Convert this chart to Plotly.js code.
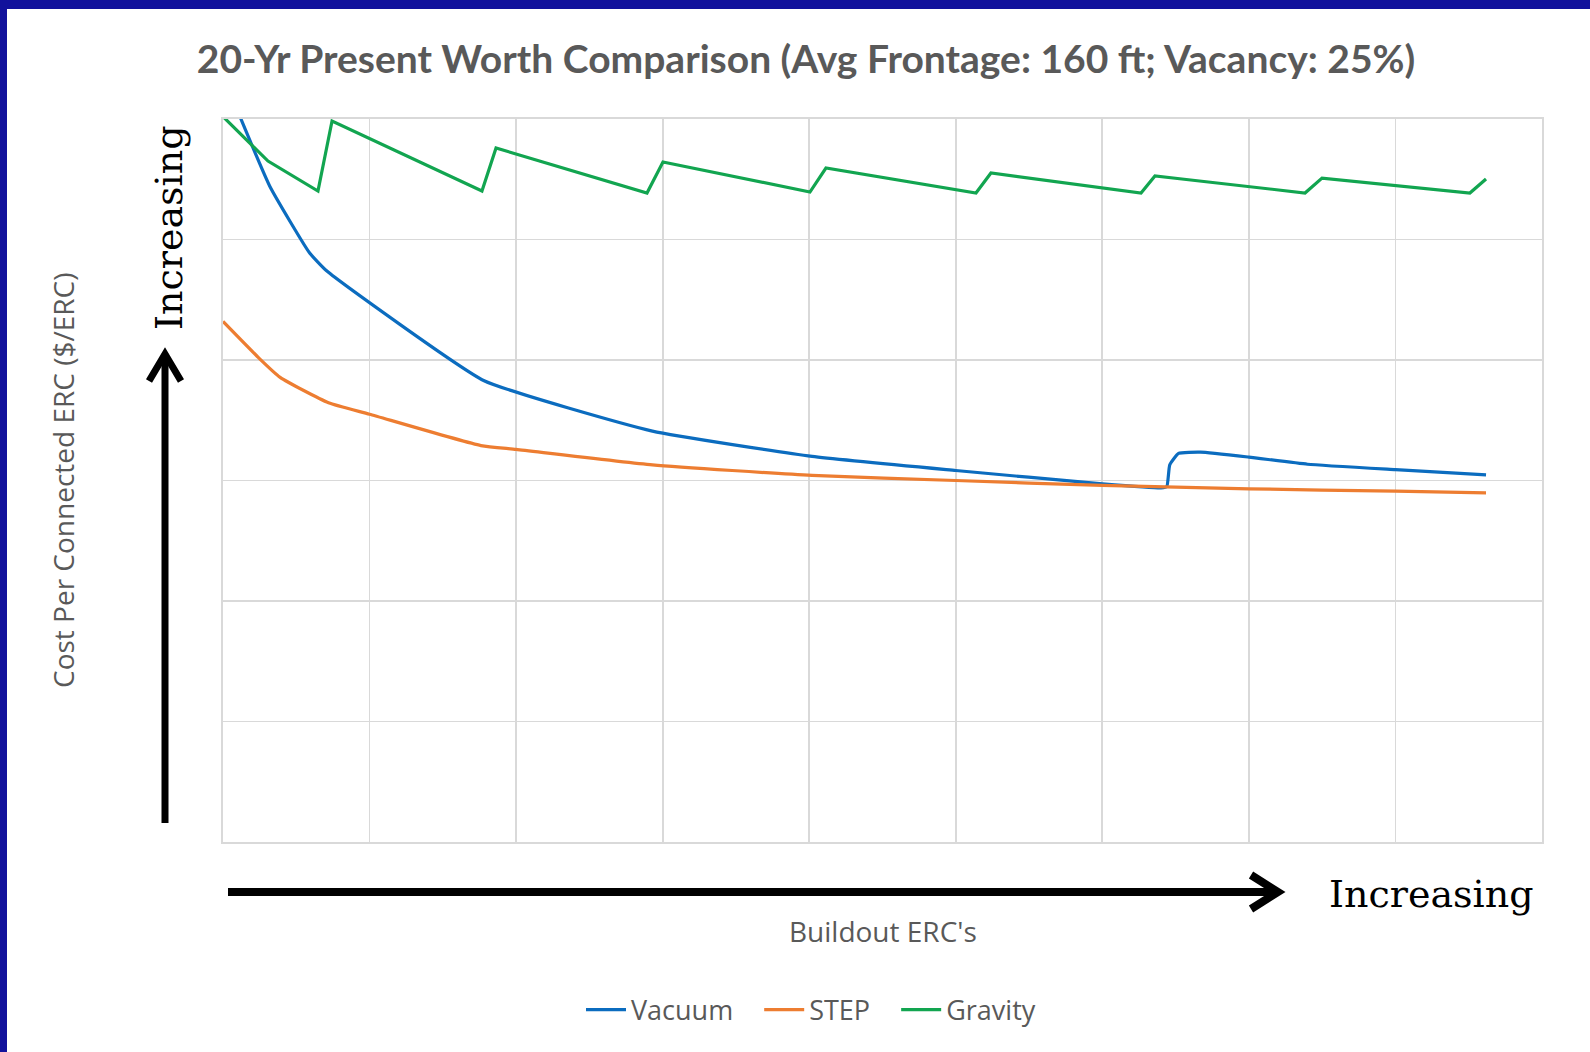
<!DOCTYPE html>
<html>
<head>
<meta charset="utf-8">
<script src="https://cdn.plot.ly/plotly-3.0.1.min.js"></script>
<style>
  html, body { margin: 0; padding: 0; background: #ffffff; }
  #chart { width: 1590px; height: 1052px; }
</style>
</head>
<body>
<div id="chart"></div>
<script>
// ---- Data (axis units are unlabeled grid units) ----
const seriesNames = ["Vacuum", "STEP", "Gravity"];

const vacuumX = [0, 0.32, 0.59, 0.707, 1.778, 2.93, 4.02, 5.0, 6.0, 6.40, 6.44, 6.46, 6.52, 6.67, 7.0, 7.4, 8.0, 8.618];
const vacuumY = [6.36, 5.44, 4.89, 4.74, 3.83, 3.41, 3.20, 3.083, 2.972, 2.938, 2.95, 3.13, 3.225, 3.235, 3.194, 3.135, 3.09, 3.047];

const stepX = [0, 0.242, 0.39, 0.72, 1.0, 1.76, 2.0, 2.93, 4.02, 5.0, 6.0, 7.0, 8.0, 8.618];
const stepY = [4.32, 4.02, 3.856, 3.645, 3.55, 3.29, 3.258, 3.13, 3.042, 3.0, 2.959, 2.931, 2.911, 2.898];

const gravityX = [0, 0.307, 0.648, 0.744, 1.767, 1.863, 2.893, 3.002, 4.005, 4.114, 5.138, 5.24, 6.264, 6.359, 6.543, 7.383, 7.499, 8.508, 8.618];
const gravityY = [6.02, 5.651, 5.402, 5.983, 5.402, 5.759, 5.386, 5.643, 5.394, 5.593, 5.386, 5.552, 5.386, 5.527, 5.502, 5.386, 5.510, 5.386, 5.502];

const titleText = "20-Yr Present Worth Comparison (Avg Frontage: 160 ft; Vacancy: 25%)";
const yTitleText = "Cost Per Connected ERC ($/ERC)";
const xTitleText = "Buildout ERC's";
const arrowLabel = "Increasing";

// ---- Layout helpers (page pixel -> paper coords) ----
const W = 1590, H = 1052;
const M = { l: 223, r: 48, t: 119, b: 210 };
const PW = W - M.l - M.r, PH = H - M.t - M.b;
const px = x => (x - M.l) / PW;
const py = y => (H - M.b - y) / PH;
const pt = (x, y) => px(x).toFixed(5) + "," + py(y).toFixed(5);

const gray = "#595959";
const grid = "#D9D9D9";
const pad = "\u00A0\u00A0\u00A0";

const traces = [
  { x: vacuumX, y: vacuumY, name: seriesNames[0] + pad, mode: "lines",
    line: { color: "#0B6CBF", width: 3.2, shape: "spline", smoothing: 0.4 } },
  { x: stepX, y: stepY, name: seriesNames[1] + pad, mode: "lines",
    line: { color: "#ED7D31", width: 3.2, shape: "spline", smoothing: 0.5 } },
  { x: gravityX, y: gravityY, name: seriesNames[2], mode: "lines",
    line: { color: "#12A550", width: 3.2 } }
];

const axisCommon = {
  showticklabels: false, ticks: "", zeroline: false,
  showgrid: true, gridcolor: grid, gridwidth: 1.8,
  showline: true, mirror: true, linecolor: grid, linewidth: 1.8,
  fixedrange: true
};

const blue = "#12129C";

const layout = {
  width: W, height: H, autosize: false,
  margin: M,
  paper_bgcolor: "#ffffff", plot_bgcolor: "#ffffff",
  showlegend: true,
  title: {
    text: "<b>" + titleText + "</b>",
    xref: "container", yref: "container",
    x: 806 / W, xanchor: "center",
    y: 1 - 59 / H, yanchor: "middle",
    font: { family: "Lato, 'Open Sans', sans-serif", size: 39, color: gray }
  },
  xaxis: Object.assign({ range: [0, 9], dtick: 1, tick0: 0 }, axisCommon),
  yaxis: Object.assign({ range: [0, 6], dtick: 1, tick0: 0 }, axisCommon),
  legend: {
    orientation: "h", xref: "paper", yref: "paper",
    x: px(811), xanchor: "center", y: py(1010), yanchor: "middle",
    font: { family: "'Open Sans', sans-serif", size: 27, color: gray },
    itemwidth: 40, tracegroupgap: 0, bgcolor: "rgba(0,0,0,0)"
  },
  annotations: [
    { text: yTitleText, xref: "paper", yref: "paper", x: px(63), y: py(481),
      xanchor: "center", yanchor: "middle", textangle: -90, showarrow: false,
      font: { family: "'Open Sans', sans-serif", size: 28, color: gray } },
    { text: xTitleText, xref: "paper", yref: "paper", x: px(883), y: py(931),
      xanchor: "center", yanchor: "middle", showarrow: false,
      font: { family: "'Open Sans', sans-serif", size: 28, color: gray } },
    { text: arrowLabel, xref: "paper", yref: "paper", x: px(1327), y: py(894),
      xanchor: "left", yanchor: "middle", showarrow: false,
      font: { family: "'DejaVu Serif', serif", size: 38, color: "#000000" } },
    { text: arrowLabel, xref: "paper", yref: "paper", x: px(169), y: py(228),
      xanchor: "center", yanchor: "middle", textangle: -90, showarrow: false,
      font: { family: "'DejaVu Serif', serif", size: 38, color: "#000000" } }
  ],
  shapes: [
    // page border (blue frame, left and top)
    { type: "rect", xref: "paper", yref: "paper", x0: px(0), x1: px(7), y0: py(H), y1: py(0),
      fillcolor: blue, line: { width: 0 } },
    { type: "rect", xref: "paper", yref: "paper", x0: px(0), x1: px(W), y0: py(9), y1: py(0),
      fillcolor: blue, line: { width: 0 } },
    // horizontal arrow
    { type: "path", xref: "paper", yref: "paper",
      path: "M " + pt(228, 892) + " L " + pt(1276, 892),
      line: { color: "#000000", width: 8 } },
    { type: "path", xref: "paper", yref: "paper",
      path: "M " + pt(1251, 875) + " L " + pt(1278, 892) + " L " + pt(1251, 909),
      line: { color: "#000000", width: 8 } },
    // vertical arrow
    { type: "path", xref: "paper", yref: "paper",
      path: "M " + pt(165, 823) + " L " + pt(165, 354),
      line: { color: "#000000", width: 7 } },
    { type: "path", xref: "paper", yref: "paper",
      path: "M " + pt(149, 381) + " L " + pt(165, 354) + " L " + pt(181, 381),
      line: { color: "#000000", width: 7 } }
  ]
};

Plotly.newPlot("chart", traces, layout, { staticPlot: true, displayModeBar: false });
</script>
</body>
</html>
